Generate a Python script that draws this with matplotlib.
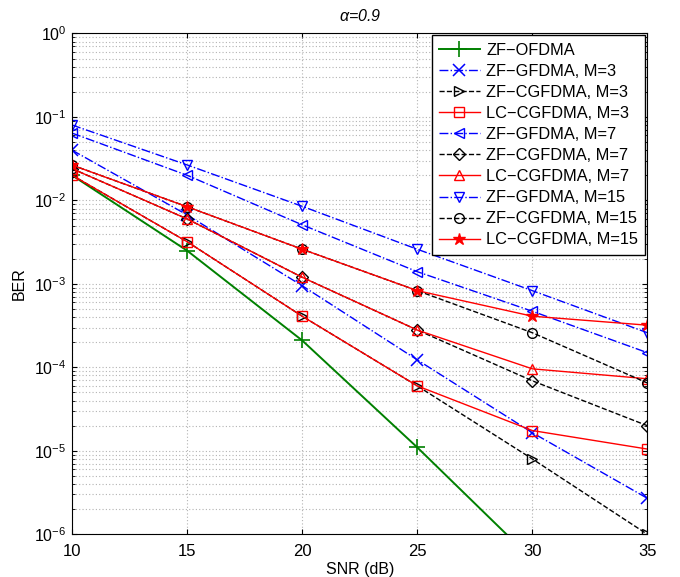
import numpy as np
import matplotlib
matplotlib.use("Agg")
import matplotlib.pyplot as plt

plt.rcParams['font.family'] = ['Liberation Sans', 'DejaVu Sans']
plt.rcParams['mathtext.fontset'] = 'custom'
plt.rcParams['mathtext.rm'] = 'Liberation Sans'
plt.rcParams['mathtext.it'] = 'Liberation Sans:italic'

snr = [10, 15, 20, 25, 30, 35]

zf_ofdma = [2.0e-2, 2.5e-3, 2.1e-4, 1.1e-5, 5.0e-7, 2.0e-8]

zf_gfdma_3 = [4.0e-2, 6.7e-3, 9.5e-4, 1.23e-4, 1.65e-5, 2.7e-6]
zf_cgfdma_3 = [2.0e-2, 3.2e-3, 4.1e-4, 6.0e-5, 8.0e-6, 1.0e-6]
lc_cgfdma_3 = [2.0e-2, 3.2e-3, 4.1e-4, 6.0e-5, 1.75e-5, 1.05e-5]

zf_gfdma_7 = [6.4e-2, 2.0e-2, 5.1e-3, 1.4e-3, 4.7e-4, 1.5e-4]
zf_cgfdma_7 = [2.4e-2, 6.0e-3, 1.2e-3, 2.8e-4, 6.9e-5, 2.0e-5]
lc_cgfdma_7 = [2.4e-2, 6.0e-3, 1.2e-3, 2.8e-4, 9.6e-5, 7.3e-5]

zf_gfdma_15 = [8.0e-2, 2.66e-2, 8.5e-3, 2.6e-3, 8.3e-4, 2.6e-4]
zf_cgfdma_15 = [2.65e-2, 8.4e-3, 2.6e-3, 8.3e-4, 2.6e-4, 6.5e-5]
lc_cgfdma_15 = [2.65e-2, 8.4e-3, 2.6e-3, 8.3e-4, 4.1e-4, 3.2e-4]

green = (0, 0.5, 0)

fig = plt.figure(figsize=(6.8, 5.77), dpi=100)
ax = fig.add_axes([0.106, 0.074, 0.846, 0.868])

ax.semilogy(snr, zf_ofdma, '-', color=green, marker='+', ms=12, mew=1.2, lw=1.4, label='ZF\u2212OFDMA')

ax.semilogy(snr, zf_gfdma_3, '-.', color='b', marker='x', ms=9, mew=1.1, lw=1, mfc='none', label='ZF\u2212GFDMA, M=3')
ax.semilogy(snr, zf_cgfdma_3, '--', color='k', marker='>', ms=7, lw=1, mfc='none', label='ZF\u2212CGFDMA, M=3')
ax.semilogy(snr, lc_cgfdma_3, '-', color='r', marker='s', ms=7, lw=1, mfc='none', label='LC\u2212CGFDMA, M=3')

ax.semilogy(snr, zf_gfdma_7, '-.', color='b', marker='<', ms=7, lw=1, mfc='none', label='ZF\u2212GFDMA, M=7')
ax.semilogy(snr, zf_cgfdma_7, '--', color='k', marker='D', ms=6, lw=1, mfc='none', label='ZF\u2212CGFDMA, M=7')
ax.semilogy(snr, lc_cgfdma_7, '-', color='r', marker='^', ms=7, lw=1, mfc='none', label='LC\u2212CGFDMA, M=7')

ax.semilogy(snr, zf_gfdma_15, '-.', color='b', marker='v', ms=7, lw=1, mfc='none', label='ZF\u2212GFDMA, M=15')
ax.semilogy(snr, zf_cgfdma_15, '--', color='k', marker='o', ms=7, lw=1, mfc='none', label='ZF\u2212CGFDMA, M=15')
ax.semilogy(snr, lc_cgfdma_15, '-', color='r', marker='*', ms=9, lw=1, label='LC\u2212CGFDMA, M=15')

ax.set_xlim(10, 35)
ax.set_ylim(1e-6, 1)
ax.set_xticks(snr)
ax.grid(True, which='major', linestyle=(0, (1, 2)), color='0.7', lw=0.8)
ax.grid(True, which='minor', axis='y', linestyle=(0, (1, 2)), color='0.7', lw=0.8)
ax.tick_params(axis='both', which='both', direction='in', top=True, right=True)
ax.tick_params(axis='x', labelsize=12, pad=7)
ax.tick_params(axis='y', labelsize=11.5, pad=4)

ax.set_xlabel('SNR (dB)', fontsize=11.5, labelpad=2)
ax.set_ylabel('BER', fontsize=11.5)
ax.yaxis.set_label_coords(-0.078, 0.5)
ax.set_title(r'$\mathit{\alpha}$=0.9', fontsize=11.5, style='italic', pad=9)

leg = ax.legend(loc='upper right', fontsize=11.8, fancybox=False, edgecolor='k',
                framealpha=1, borderaxespad=0.12, handlelength=2.5,
                handletextpad=0.37, labelspacing=0.37, borderpad=0.45)
leg.get_frame().set_linewidth(1)

fig.savefig('out.png', dpi=100)
